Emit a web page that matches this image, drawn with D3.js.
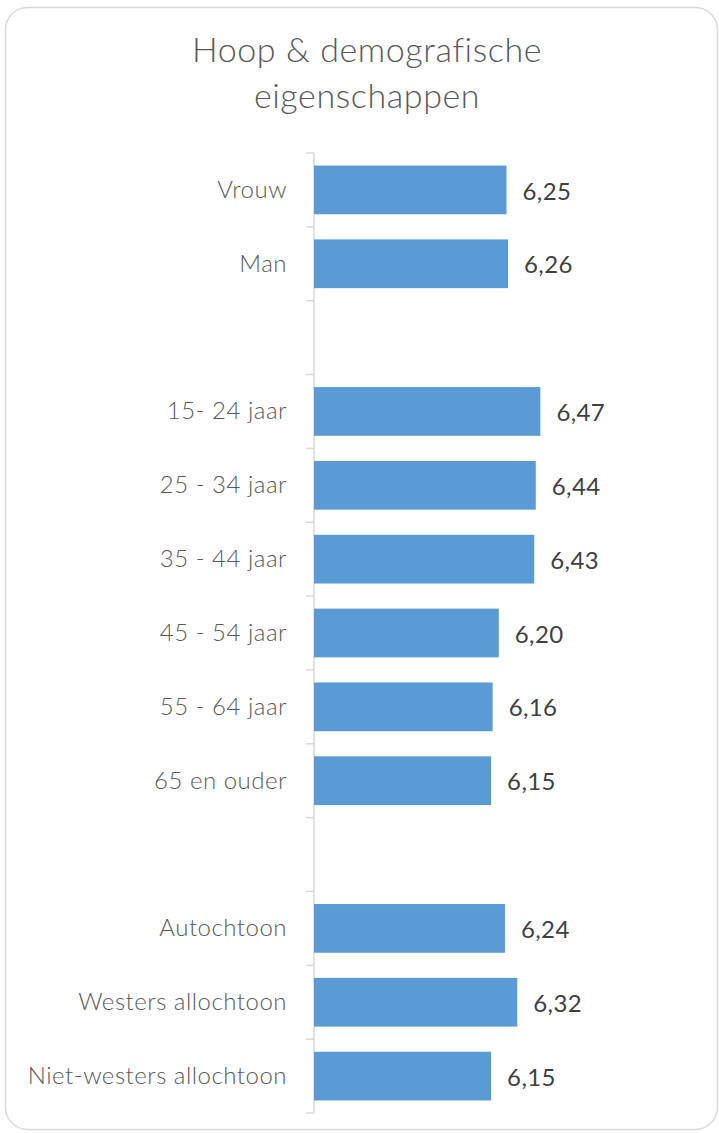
<!DOCTYPE html>
<html>
<head>
<meta charset="utf-8">
<script src="https://cdn.jsdelivr.net/npm/d3@7"></script>
<style>
    body{ margin:0; background:#fff; }
    svg text{ font-family: Lato, "Open Sans", sans-serif; }
</style>
</head>
<body>
<div id="chart"></div>
<script>
// categories, empty strings are the spacer rows between groups
const categories = ["Vrouw", "Man", "", "15- 24 jaar", "25 - 34 jaar", "35 - 44 jaar", "45 - 54 jaar",
    "55 - 64 jaar", "65 en ouder", " ", "Autochtoon", "Westers allochtoon", "Niet-westers allochtoon"];
const values = [6.25, 6.26, null, 6.47, 6.44, 6.43, 6.20, 6.16, 6.15, null, 6.24, 6.32, 6.15];
const valueLabels = ["6,25", "6,26", "", "6,47", "6,44", "6,43", "6,20", "6,16", "6,15", "", "6,24", "6,32", "6,15"];
const xDomain = [5, 7];
const titleLines = ["Hoop & demografische", "eigenschappen"];

const width = 719, height = 1133;
const margin = {top: 153, left: 314, right: 97, bottom: 20};

const svg = d3.select("#chart").append("svg")
    .attr("width", width)
    .attr("height", height);

// card
svg.append("rect")
    .attr("x", 5.5).attr("y", 7.5)
    .attr("width", 712).attr("height", 1122)
    .attr("rx", 22)
    .attr("fill", "#fff")
    .attr("stroke", "#d9d9d9")
    .attr("stroke-width", 1.5);

svg.append("text")
    .attr("text-anchor", "middle")
    .attr("fill", "#595959")
    .style("font-size", "34px")
    .style("font-weight", 300)
    .style("letter-spacing", "0.6px")
    .selectAll("tspan")
    .data(titleLines)
    .enter().append("tspan")
        .attr("x", 367)
        .attr("y", (d, i) => 62 + i * 46)
        .text(d => d);

const keys = categories.map((c, i) => i);

const yScale = d3.scaleBand()
    .domain(keys)
    .range([153, 1113])
    .paddingInner(0.34)
    .paddingOuter(0.17);

const xScale = d3.scaleLinear()
    .domain(xDomain)
    .range([margin.left, width - margin.right]);

// axis: line + ticks at band boundaries
const g = svg.append("g");
g.append("line")
    .attr("x1", margin.left).attr("x2", margin.left)
    .attr("y1", 153).attr("y2", 1113)
    .attr("stroke", "#d9d9d9").attr("stroke-width", 1.5);

const boundaries = d3.range(categories.length + 1).map(i => 153 + i * yScale.step());
g.selectAll(".tick")
    .data(boundaries)
    .enter().append("line")
        .attr("x1", margin.left - 8).attr("x2", margin.left)
        .attr("y1", d => d).attr("y2", d => d)
        .attr("stroke", "#d9d9d9").attr("stroke-width", 1.5);

// category labels
g.selectAll(".cat")
    .data(categories)
    .enter().append("text")
        .attr("x", 287)
        .attr("y", (d, i) => yScale(i) + yScale.bandwidth() / 2)
        .attr("dy", "0.33em")
        .attr("text-anchor", "end")
        .attr("fill", "#595959")
        .style("font-size", "24px")
        .style("font-weight", 300)
        .style("letter-spacing", "0.5px")
        .text(d => d.trim());

const data = categories.map((c, i) => ({i, value: values[i], label: valueLabels[i]}))
    .filter(d => d.value !== null);

g.selectAll(".bar")
    .data(data)
    .enter().append("rect")
        .attr("x", xScale(xDomain[0]))
        .attr("y", d => yScale(d.i))
        .attr("width", d => xScale(d.value) - xScale(xDomain[0]))
        .attr("height", yScale.bandwidth())
        .attr("fill", "#5b9bd5");

g.selectAll(".val")
    .data(data)
    .enter().append("text")
        .attr("x", d => xScale(d.value) + 16)
        .attr("y", d => yScale(d.i) + yScale.bandwidth() / 2)
        .attr("dy", "0.4em")
        .attr("fill", "#404040")
        .style("font-size", "24px")
        .style("letter-spacing", "0.4px")
        .text(d => d.label);
</script>
</body>
</html>
